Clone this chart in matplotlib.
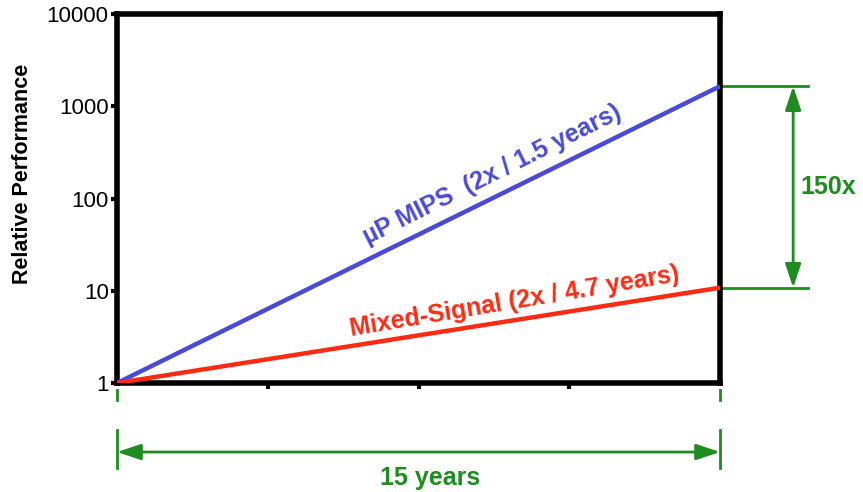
import numpy as np
import matplotlib.pyplot as plt
import matplotlib.transforms as mtransforms

plt.rcParams['font.family'] = ['Liberation Sans', 'DejaVu Sans']

# data
years = [0, 15]
mips = [1, 1650]          # 2x / 1.5 years
mixed_signal = [1, 10.8]  # 2x / 4.7 years
ytick_vals = [1, 10, 100, 1000, 10000]
ytick_labels = ['1', '10', '100', '1000', '10000']
xtick_vals = [3.75, 7.5, 11.25]

green = '#1e8c1e'
blue = '#4a4ad8'
red = '#ff2a12'

fig = plt.figure(figsize=(8.63, 4.92), dpi=100)
ax = fig.add_axes([0.1356, 0.2215, 0.6987, 0.75])

ax.plot(years, mips, c=blue, lw=3.2, solid_capstyle='butt', zorder=3)
ax.plot(years, mixed_signal, c=red, lw=3.2, solid_capstyle='butt', zorder=3)

ax.set_yscale('log')
ax.set_xlim(0, 15)
ax.set_ylim(1, 10000)
ax.set_yticks(ytick_vals)
ax.set_yticklabels(ytick_labels, fontsize=16)
ax.yaxis.set_minor_locator(plt.NullLocator())
ax.set_xticks(xtick_vals)
ax.set_xticklabels([])
ax.tick_params(axis='both', length=4, width=3, direction='out', pad=2)
for s in ax.spines.values():
    s.set_linewidth(4)
ax.set_ylabel('Relative Performance', fontsize=15.5, fontweight='bold')
ax.yaxis.set_label_coords(-0.139, 0.566)

# line labels
ax.text(9.33, 182, '\u00b5P MIPS  (2x / 1.5 years)', color=blue, fontsize=18,
        fontweight='bold', rotation=26.5, ha='center', va='center',
        rotation_mode='anchor')
ax.text(9.9, 7.6, 'Mixed-Signal (2x / 4.7 years)', color=red, fontsize=18,
        fontweight='bold', rotation=9.5, ha='center', va='center',
        rotation_mode='anchor')

arrow_style = '<|-|>,head_length=0.9,head_width=0.3'

# 15 years span below the axis
trans = mtransforms.blended_transform_factory(ax.transData, ax.transAxes)
for x in years:
    ax.plot([x, x], [-0.019, -0.046], c=green, lw=2, transform=trans, clip_on=False)
    ax.plot([x, x], [-0.127, -0.230], c=green, lw=2, transform=trans, clip_on=False)
ax.annotate('', xy=(years[1], -0.187), xytext=(years[0], -0.187),
            xycoords=trans, textcoords=trans, annotation_clip=False,
            arrowprops=dict(arrowstyle=arrow_style, color=green, lw=2,
                            shrinkA=0, shrinkB=0, mutation_scale=16))
ax.text(7.8, -0.257, '15 years', color=green, fontsize=18, fontweight='bold',
        ha='center', va='center', transform=trans)

# 150x gap on the right
for v in (mips[-1], mixed_signal[-1]):
    ax.plot([15, 17.2], [v, v], c=green, lw=2, clip_on=False)
ax.annotate('', xy=(16.82, mixed_signal[-1]), xytext=(16.82, mips[-1]),
            annotation_clip=False,
            arrowprops=dict(arrowstyle=arrow_style, color=green, lw=2,
                            shrinkA=0, shrinkB=0, mutation_scale=16))
ax.text(17.7, np.sqrt(mips[-1] * mixed_signal[-1]), '150x', color=green,
        fontsize=18, fontweight='bold', ha='center', va='center')

fig.savefig('out.png', dpi=100)
